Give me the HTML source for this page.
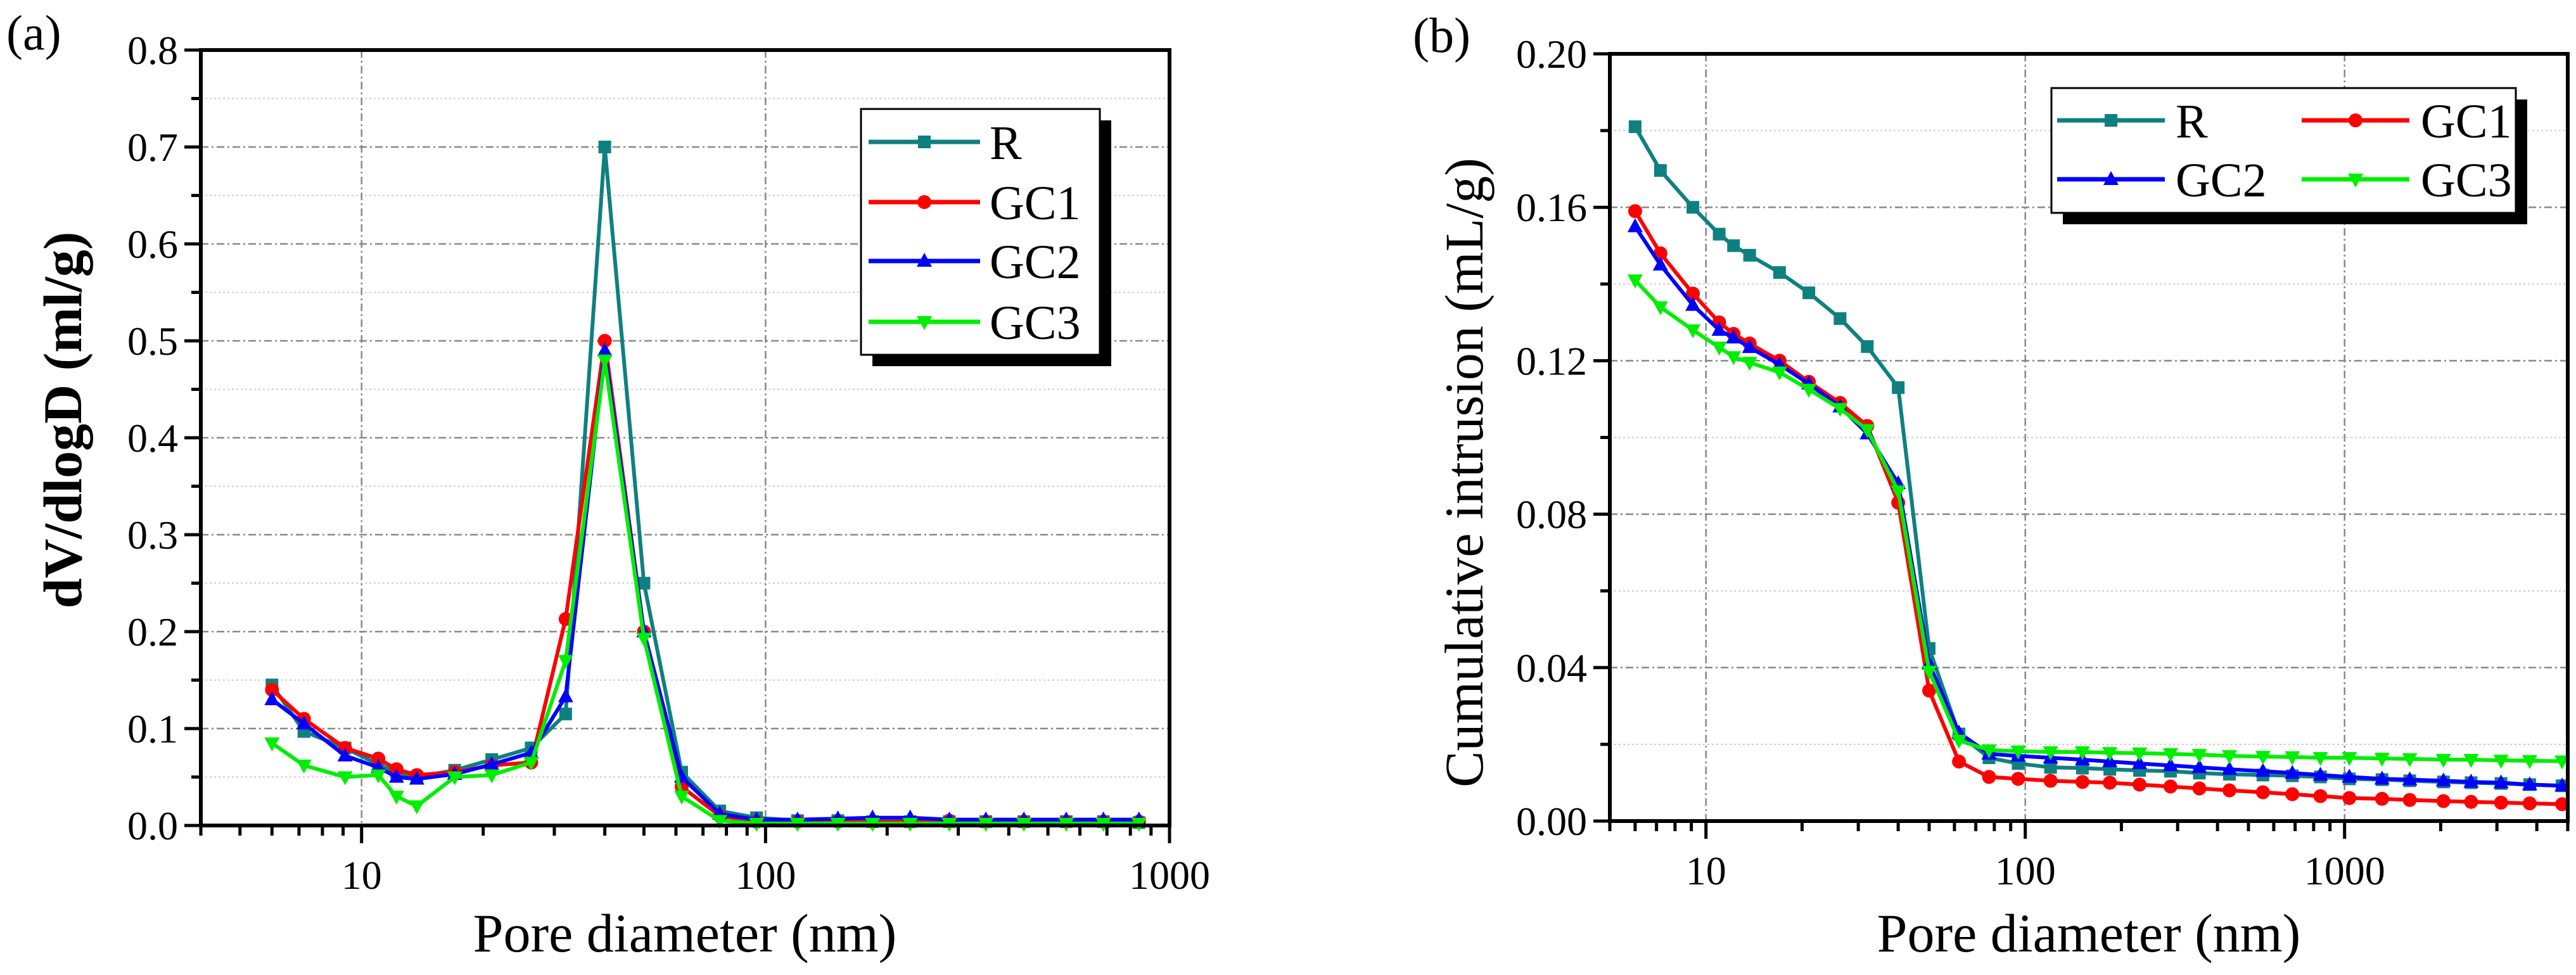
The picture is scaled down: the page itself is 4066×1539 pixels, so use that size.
<!DOCTYPE html>
<html><head><meta charset="utf-8"><style>
html,body{margin:0;padding:0;background:#fff}
svg{display:block}
text{font-family:"Liberation Serif",serif;fill:#000}
</style></head><body>
<svg id="fig" width="4066" height="1539" viewBox="0 0 4066 1539" xmlns="http://www.w3.org/2000/svg"></svg>
<script>
// ---- shared x categories (pore diameters, nm)
const poreA = [6,7.2,9.1,11,12.2,13.7,17,21,26.3,32,40,50,62,77,95,120,151,184,228,285,351,436,555,686,840];
const poreB = [6,7.2,9.1,11,12.2,13.7,17,21,26.3,32,40,50,62,77,95,120,151,184,228,285,351,436,555,686,840,1035,1310,1600,2040,2490,3090,3800,4800];
// ---- panel (a) dV/dlogD values
const aR   = [0.145,0.097,0.080,0.063,0.055,0.050,0.057,0.068,0.080,0.115,0.700,0.250,0.055,0.015,0.008,0.005,0.005,0.004,0.004,0.004,0.004,0.004,0.004,0.004,0.003];
const aGC1 = [0.140,0.110,0.080,0.069,0.058,0.052,0.055,0.062,0.065,0.213,0.500,0.200,0.040,0.010,0.004,0.004,0.004,0.004,0.004,0.005,0.004,0.004,0.004,0.004,0.004];
const aGC2 = [0.130,0.105,0.072,0.060,0.050,0.048,0.053,0.063,0.075,0.133,0.490,0.200,0.050,0.012,0.006,0.006,0.007,0.008,0.008,0.006,0.006,0.006,0.006,0.006,0.006];
const aGC3 = [0.085,0.062,0.050,0.052,0.030,0.020,0.050,0.052,0.065,0.170,0.480,0.193,0.030,0.005,0.002,0.002,0.002,0.002,0.002,0.002,0.002,0.002,0.002,0.002,0.002];
// ---- panel (b) cumulative intrusion values
const bR   = [0.181,0.1696,0.160,0.153,0.150,0.1475,0.143,0.1377,0.131,0.1237,0.113,0.045,0.0227,0.0165,0.015,0.014,0.0138,0.0135,0.0132,0.013,0.0125,0.0122,0.012,0.0118,0.0115,0.011,0.0108,0.0105,0.0102,0.010,0.0098,0.0095,0.0092];
const bGC1 = [0.159,0.148,0.1375,0.130,0.127,0.1245,0.120,0.1145,0.109,0.103,0.083,0.034,0.0155,0.0115,0.011,0.0105,0.0102,0.010,0.0095,0.009,0.0085,0.008,0.0075,0.007,0.0065,0.006,0.0058,0.0055,0.0052,0.005,0.0048,0.0046,0.0044];
const bGC2 = [0.155,0.145,0.1345,0.128,0.126,0.1235,0.119,0.114,0.108,0.101,0.088,0.041,0.023,0.0175,0.017,0.0165,0.016,0.0155,0.015,0.0145,0.014,0.0135,0.013,0.0125,0.012,0.0115,0.011,0.0108,0.0105,0.0102,0.010,0.0095,0.0092];
const bGC3 = [0.141,0.134,0.128,0.1235,0.121,0.1195,0.117,0.1125,0.1075,0.102,0.086,0.039,0.021,0.0185,0.0182,0.018,0.018,0.0178,0.0177,0.0175,0.0173,0.017,0.0168,0.0167,0.0165,0.0165,0.0163,0.0162,0.016,0.016,0.0158,0.0157,0.0156];
const yTicksA = ["0.0","0.1","0.2","0.3","0.4","0.5","0.6","0.7","0.8"];
const yTicksB = ["0.00","0.04","0.08","0.12","0.16","0.20"];
const xTicksA = ["10","100","1000"];
const xTicksB = ["10","100","1000"];

const NS="http://www.w3.org/2000/svg";
const svg=document.getElementById('fig');
function mk(tag,attrs,parent){const e=document.createElementNS(NS,tag);for(const k in attrs)e.setAttribute(k,attrs[k]);(parent||svg).appendChild(e);return e;}

const colors={R:"#0f8080",GC1:"#ff0000",GC2:"#0000ff",GC3:"#00ee00"};
const shapes={R:"square",GC1:"circle",GC2:"tri",GC3:"tridown"};

function marker(g,shape,x,y,c){
  let e;
  if(shape==="square") e=mk('rect',{x:x-10,y:y-10,width:20,height:20,fill:c},g);
  else if(shape==="circle") e=mk('circle',{cx:x,cy:y,r:11,fill:c},g);
  else if(shape==="tri") e=mk('polygon',{points:`${x},${y-13} ${x+12},${y+9} ${x-12},${y+9}`,fill:c},g);
  else e=mk('polygon',{points:`${x},${y+13} ${x+12},${y-9} ${x-12},${y-9}`,fill:c},g);
  
  
}

function panel(o){
  const g=mk('g',{});
  
  
  const lx=Math.log10(o.xmin),hx=Math.log10(o.xmax);
  const X=v=>o.L+(Math.log10(v)-lx)/(hx-lx)*(o.R-o.L);
  const Y=v=>o.B-(v-o.ymin)/(o.ymax-o.ymin)*(o.B-o.T);
  // grid
  const grid=mk('g',{},g);  
  const n=o.yTicks.length-1, step=(o.ymax-o.ymin)/n;
  for(let i=0;i<=n;i++){
    const v=o.ymin+i*step;
    if(i>0&&i<n) mk('line',{x1:o.L,x2:o.R,y1:Y(v),y2:Y(v),stroke:"#888",'stroke-width':2.5,'stroke-dasharray':"12,5,3,5"},grid);
    if(i<n) mk('line',{x1:o.L,x2:o.R,y1:Y(v+step/2),y2:Y(v+step/2),stroke:"#ccc",'stroke-width':2,'stroke-dasharray':"3,4"},grid);
  }
  o.xTicks.forEach(t=>{const v=+t; if(v>o.xmin&&v<o.xmax) mk('line',{x1:X(v),x2:X(v),y1:o.T,y2:o.B,stroke:"#888",'stroke-width':2.5,'stroke-dasharray':"12,5,3,5"},grid);});
  // series
  o.series.forEach(s=>{
    const sg=mk('g',{},g);
    
    
    const pts=s.vals.map((v,i)=>X(o.xs[i]).toFixed(1)+","+Y(v).toFixed(1)).join(" ");
    mk('polyline',{points:pts,fill:"none",stroke:colors[s.key],'stroke-width':6,'stroke-linejoin':"round"},sg);
    s.vals.forEach((v,i)=>marker(sg,shapes[s.key],X(o.xs[i]),Y(v),colors[s.key]));
  });
  // axes frame
  const ax=mk('rect',{x:o.L,y:o.T,width:o.R-o.L,height:o.B-o.T,fill:"none",stroke:"#000",'stroke-width':6},g);
   
  // y ticks
  const yt=mk('g',{},g);  
  for(let i=0;i<=n;i++){
    const v=o.ymin+i*step;
    mk('line',{x1:o.L-26,x2:o.L,y1:Y(v),y2:Y(v),stroke:"#000",'stroke-width':5},yt);
    if(i<n) mk('line',{x1:o.L-15,x2:o.L,y1:Y(v+step/2),y2:Y(v+step/2),stroke:"#000",'stroke-width':5},yt);
    const t=mk('text',{x:o.L-36,y:Y(v)+22,'text-anchor':"end",'font-size':64},yt); t.textContent=o.yTicks[i];
  }
  // x ticks
  const xt=mk('g',{},g);  
  for(let d=Math.floor(lx);d<=Math.ceil(hx);d++){
    for(let m=1;m<10;m++){
      const v=m*Math.pow(10,d);
      if(v<o.xmin-1e-9||v>o.xmax+1e-9) continue;
      mk('line',{x1:X(v),x2:X(v),y1:o.B,y2:o.B+(m===1?28:16),stroke:"#000",'stroke-width':5},xt);
    }
  }
  o.xTicks.forEach(t=>{const e=mk('text',{x:X(+t),y:o.B+100,'text-anchor':"middle",'font-size':64},xt); e.textContent=t;});
  // titles
  const xtl=mk('text',{x:o.xtx,y:1502,'text-anchor':"middle",'font-size':86},g); xtl.textContent="Pore diameter (nm)";
   
  const ytl=mk('text',{x:0,y:0,'text-anchor':"middle",'font-size':86,'font-weight':o.ybold?"bold":"normal",transform:`translate(${o.ytx},${o.yty}) rotate(-90)`},g); ytl.textContent=o.ytitle;
   
  const pl=mk('text',{x:o.plx,y:o.ply,'font-size':78},g); pl.textContent=o.label;
   
  // legend
  const lg=mk('g',{},g);  
  const b=o.leg;
  mk('rect',{x:b.x+18,y:b.y+18,width:b.w,height:b.h,fill:"#000"},lg);
  mk('rect',{x:b.x,y:b.y,width:b.w,height:b.h,fill:"#fff",stroke:"#000",'stroke-width':3},lg);
  b.items.forEach(it=>{
    const eg=mk('g',{},lg);  
    mk('line',{x1:it.x1,x2:it.x2,y1:it.y,y2:it.y,stroke:colors[it.key],'stroke-width':7},eg);
    marker(eg,shapes[it.key],(it.x1+it.x2)/2,it.y,colors[it.key]);
    const t=mk('text',{x:it.tx,y:it.y+27,'font-size':76},eg); t.textContent=it.key;
  });
}

panel({name:"panel-a",L:317,R:1846,T:79,B:1303,xmin:4,xmax:1000,ymin:0,ymax:0.8,
  xs:poreA,yTicks:yTicksA,xTicks:xTicksA,
  series:[{key:"R",vals:aR},{key:"GC1",vals:aGC1},{key:"GC2",vals:aGC2},{key:"GC3",vals:aGC3}],
  xtx:1081,ytx:128,yty:663,ytitle:"dV/dlogD (ml/g)",ybold:true,label:"(a)",plx:10,ply:78,
  leg:{x:1359,y:172,w:377,h:388,items:[
    {key:"R",x1:1371,x2:1547,y:224,tx:1562},
    {key:"GC1",x1:1371,x2:1547,y:319,tx:1562},
    {key:"GC2",x1:1371,x2:1547,y:412,tx:1562},
    {key:"GC3",x1:1371,x2:1547,y:508,tx:1562}]}});

panel({name:"panel-b",L:2541,R:4053,T:85,B:1296,xmin:5,xmax:5000,ymin:0,ymax:0.2,
  xs:poreB,yTicks:yTicksB,xTicks:xTicksB,
  series:[{key:"R",vals:bR},{key:"GC1",vals:bGC1},{key:"GC2",vals:bGC2},{key:"GC3",vals:bGC3}],
  xtx:3297,ytx:2340,yty:746,ytitle:"Cumulative intrusion (mL/g)",ybold:false,label:"(b)",plx:2230,ply:82,
  leg:{x:3238,y:139,w:733,h:197,items:[
    {key:"R",x1:3247,x2:3417,y:190,tx:3434},
    {key:"GC1",x1:3633,x2:3803,y:190,tx:3821},
    {key:"GC2",x1:3247,x2:3417,y:283,tx:3434},
    {key:"GC3",x1:3633,x2:3803,y:283,tx:3821}]}});
</script>
</body></html>
